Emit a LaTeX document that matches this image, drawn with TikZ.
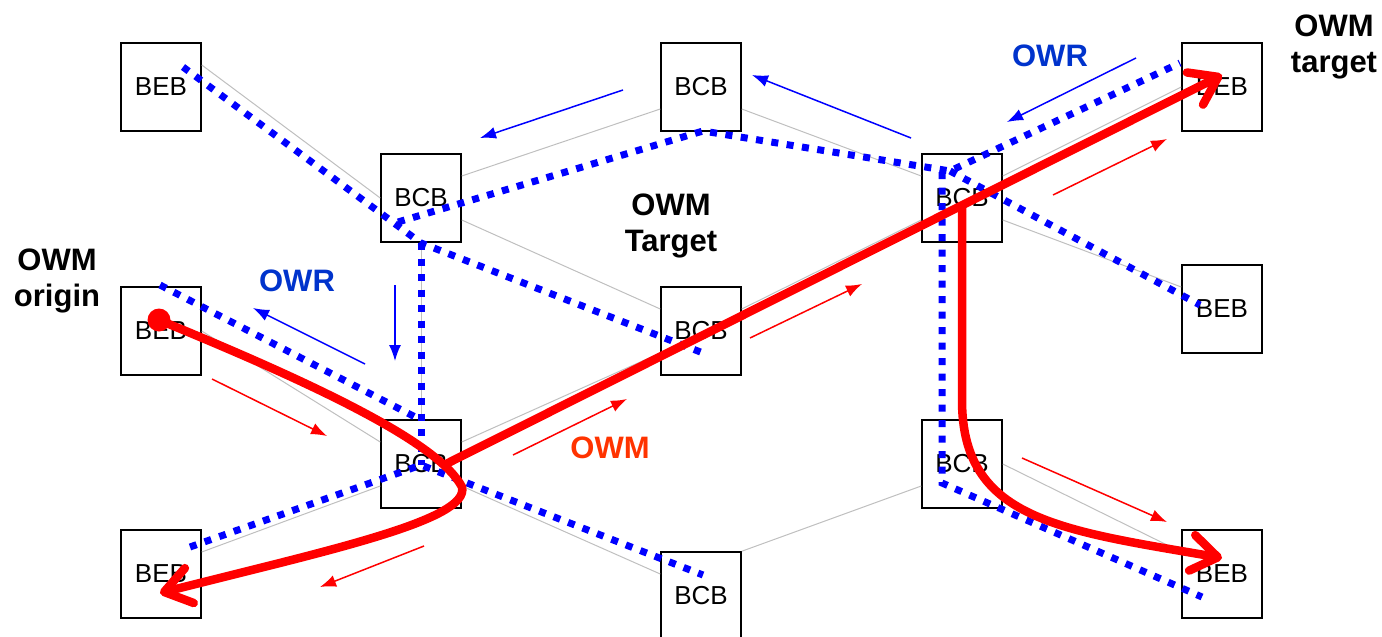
\documentclass[tikz,border=0pt]{standalone}
\usepackage{fontspec}
\setmainfont{Liberation Sans}
\usepackage{xcolor}
\usepackage{tikz}
\usetikzlibrary{arrows.meta}
\usetikzlibrary{positioning}
\tikzset{>=latex}
\definecolor{owrblue}{RGB}{0,51,204}
\definecolor{owmred}{RGB}{255,51,0}
\tikzstyle{unit} = [rectangle, draw=black, line width=1.5pt, fill=white, minimum width=80pt, minimum height=88pt, inner sep=0pt, font=\fontsize{26}{30}\selectfont]
\tikzstyle{link} = [draw=gray!50, line width=1pt]
\tikzstyle{owr} = [draw=blue, line width=7pt, dash pattern=on 7pt off 8.5pt]
\tikzstyle{owm} = [draw=red, line width=8.5pt, line cap=round, -{Straight Barb[round, length=26pt, width=36pt]}]
\tikzstyle{hint} = [line width=1.5pt, -{Latex[length=16pt, width=12pt]}]
\tikzstyle{tag} = [font=\bfseries\fontsize{31}{36}\selectfont, align=center, inner sep=0pt]

\begin{document}
\begin{tikzpicture}[x=1pt, y=-1pt]
\useasboundingbox (0, 0) rectangle (1382, 637);
% boxes
\node [unit] (BEB1) at (161, 87) {BEB};
\node [unit] (BEB2) at (161, 331) {BEB};
\node [unit] (BEB3) at (161, 574) {BEB};
\node [unit] (BEB4) at (1222, 87) {BEB};
\node [unit] (BEB5) at (1222, 309) {BEB};
\node [unit] (BEB6) at (1222, 574) {BEB};
\node [unit] (BCB1) at (421, 198) {BCB};
\node [unit] (BCB2) at (421, 464) {BCB};
\node [unit] (BCB3) at (701, 87) {BCB};
\node [unit] (BCB4) at (701, 331) {BCB};
\node [unit] (BCB5) at (701, 596) {BCB};
\node [unit] (BCB6) at (962, 198) {BCB};
\node [unit] (BCB7) at (962, 464) {BCB};
% links
\draw [link] ([yshift=22pt]BEB1.east) to (BCB1.west);
\draw [link] ([yshift=22pt]BCB1.east) to ([yshift=-22pt]BCB3.west);
\draw [link] ([yshift=-22pt]BCB3.east) to ([yshift=22pt]BCB6.west);
\draw [link] ([yshift=-22pt]BCB1.east) to ([yshift=22pt]BCB4.west);
\draw [link] ([yshift=22pt]BCB6.east) to (BEB4.west);
\draw [link] ([yshift=-22pt]BCB6.east) to ([yshift=22pt]BEB5.west);
\draw [link] (BEB2.east) to ([yshift=22pt]BCB2.west);
\draw [link] ([yshift=22pt]BCB2.east) to ([yshift=-22pt]BCB4.west);
\draw [link] ([yshift=22pt]BCB4.east) to ([yshift=-22pt]BCB6.west);
\draw [link] ([yshift=-22pt]BCB2.east) to ([yshift=22pt]BCB5.west);
\draw [link] (BCB5.north east) to ([yshift=-22pt]BCB7.west);
\draw [link] ([yshift=22pt]BEB3.east) to ([yshift=-22pt]BCB2.west);
\draw [link] (BCB7.east) to ([yshift=22pt]BEB6.west);
\draw [link] (BCB1) to (BCB2);
\draw [link] (BCB6) to (BCB7);
% small arrows
\coordinate (w1s) at (623, 90);  \coordinate (w1e) at (480, 138);
\coordinate (w2s) at (911, 138); \coordinate (w2e) at (752, 75);
\coordinate (w3s) at (1136, 58); \coordinate (w3e) at (1007, 122);
\coordinate (w4s) at (365, 364); \coordinate (w4e) at (253, 308);
\coordinate (w5s) at (395, 285); \coordinate (w5e) at (395, 361);
\coordinate (m1s) at (212, 379); \coordinate (m1e) at (327, 436);
\coordinate (m2s) at (424, 546); \coordinate (m2e) at (320, 587);
\coordinate (m3s) at (513, 455); \coordinate (m3e) at (627, 399);
\coordinate (m4s) at (750, 338); \coordinate (m4e) at (862, 284);
\coordinate (m5s) at (1053, 195); \coordinate (m5e) at (1167, 139);
\coordinate (m6s) at (1022, 458); \coordinate (m6e) at (1167, 522);
\draw [hint, draw=blue, fill=blue] (w1s) to (w1e);
\draw [hint, draw=blue, fill=blue] (w2s) to (w2e);
\draw [hint, draw=blue, fill=blue] (w3s) to (w3e);
\draw [hint, draw=blue, fill=blue] (w4s) to (w4e);
\draw [hint, draw=blue, fill=blue] (w5s) to (w5e);
\draw [hint, draw=red, fill=red] (m1s) to (m1e);
\draw [hint, draw=red, fill=red] (m2s) to (m2e);
\draw [hint, draw=red, fill=red] (m3s) to (m3e);
\draw [hint, draw=red, fill=red] (m4s) to (m4e);
\draw [hint, draw=red, fill=red] (m5s) to (m5e);
\draw [hint, draw=red, fill=red] (m6s) to (m6e);
% OWR paths
\coordinate (o1) at (183, 67);
\coordinate (h1) at (421, 243);
\coordinate (o2) at (703, 353);
\coordinate (o3) at (398, 222);
\coordinate (h2) at (703, 131);
\coordinate (h3) at (950, 171);
\coordinate (o4) at (1180, 63);
\coordinate (o5) at (1200, 305);
\coordinate (o6) at (160, 285);
\coordinate (h4) at (421, 420);
\coordinate (h5) at (421, 465);
\coordinate (o7) at (190, 547);
\coordinate (o8) at (703, 575);
\coordinate (h6) at (942, 172);
\coordinate (h7) at (942, 483);
\coordinate (o9) at (1202, 597);
\draw [owr] (o1) -- (h1) -- (o2);
\draw [owr] (o3) -- (h2) -- (h3) -- (o4);
\draw [owr] (h3) -- (o5);
\draw [owr] (o6) -- (h4);
\draw [owr] (h1) -- (h5);
\draw [owr] (o7) -- (h5) -- (o8);
\draw [owr] (h6) -- (h7) -- (o9);
% OWM paths
\node [circle, fill=red, inner sep=0pt, minimum size=23pt] (src) at (159, 320) {};
\coordinate (k1) at (462, 487);
\coordinate (t1) at (160, 593);
\coordinate (k2) at (446, 464);
\coordinate (t2) at (1222, 75);
\coordinate (k3) at (962, 206);
\coordinate (t3) at (1222, 558);
\draw [owm] (src.center) .. controls (330, 390) and (440, 445) .. (k1) .. controls (470, 520) and (330, 550) .. (t1);
\draw [owm] (k2) -- (t2);
\draw [owm] (k3) -- (962, 400) .. controls (962, 520) and (1060, 530) .. (t3);
% labels
\node [tag] (orig) at (57, 281) {OWM\\origin};
\node [tag] (mid) at (671, 226) {OWM\\Target};
\node [tag] (dest) at (1334, 47) {OWM\\target};
\node [tag, text=owrblue] (owr1) at (297, 281) {OWR};
\node [tag, text=owrblue] (owr2) at (1050, 56) {OWR};
\node [tag, text=owmred] (owm1) at (610, 448) {OWM};
\end{tikzpicture}
\end{document}
